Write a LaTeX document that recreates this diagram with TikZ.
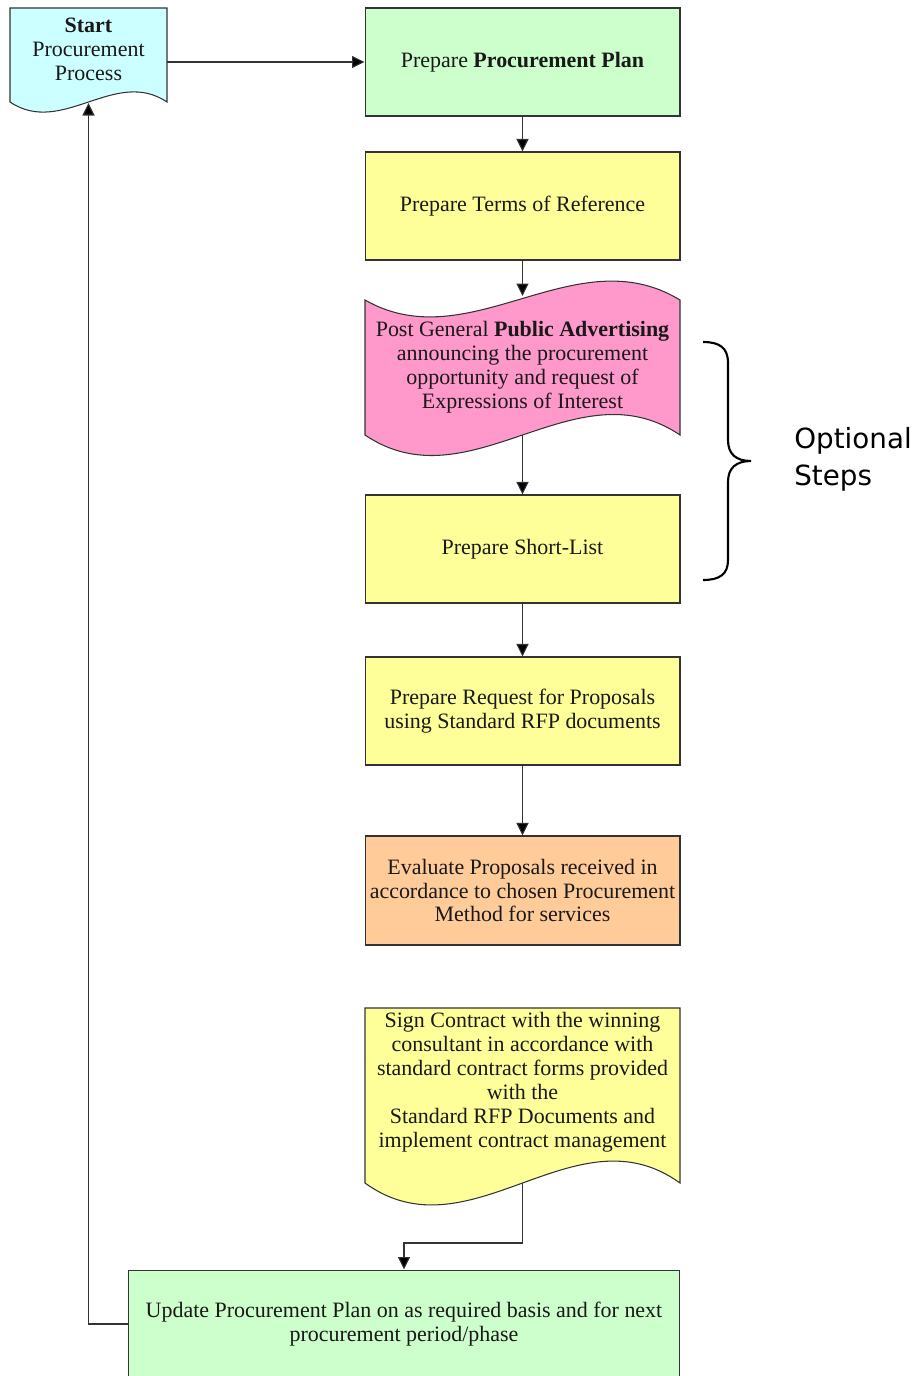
\documentclass[tikz,border=0pt]{standalone}
\usepackage{fontspec}
\setmainfont{Liberation Serif}
\newfontfamily\optfont{DejaVu Sans}
\usetikzlibrary{arrows.meta}
\definecolor{cstart}{HTML}{CCFFFF}
\definecolor{cgreen}{HTML}{CCFFCC}
\definecolor{cyellow}{HTML}{FFFF99}
\definecolor{cpink}{HTML}{FF99CC}
\definecolor{corange}{HTML}{FFCC99}
\definecolor{cline}{HTML}{333333}
\tikzset{
  boxtxt/.style={align=center, inner sep=0pt, font=\fontsize{12.5}{13.6}\selectfont, text=black!90},
  stepbox/.style={boxtxt, draw=cline, line width=0.6pt, minimum width=6.3cm, minimum height=2.16cm},
  shapeline/.style={draw=cline, line width=0.6pt},
  arr/.style={draw=cline, line width=0.6pt, -{Triangle[length=2.5mm,width=2.4mm,fill=black]}},
}
\begin{document}
\begin{tikzpicture}[x=0.02cm,y=-0.02cm]
\useasboundingbox (0,0) rectangle (920,1376);
\clip (0,0) rectangle (920,1376);

% Start document shape
\draw[shapeline, fill=cstart] (10,8) -- (167,8) -- (167,102)
  .. controls (115,67) and (62,137) .. (10,102) -- cycle;
\node[boxtxt] (start) at (88.5,49) {\textbf{Start}\\Procurement\\Process};
\coordinate (startE) at (167,62);
\coordinate (startS) at (88.5,103);

% Plan
\node[stepbox, fill=cgreen] (plan) at (522.5,62) {Prepare \textbf{Procurement Plan}};
% ToR
\node[stepbox, fill=cyellow] (tor) at (522.5,206) {Prepare Terms of Reference};

% Advertising (punched tape)
\draw[shapeline, fill=cpink] (365,300) .. controls (470,360) and (575,236) .. (680,300)
  -- (680,435) .. controls (575,364) and (470,506) .. (365,435) -- cycle;
\node[boxtxt] (adv) at (522.5,367) {Post General \textbf{Public Advertising}\\announcing the procurement\\opportunity and request of\\Expressions of Interest};
\coordinate (advN) at (522.5,296);
\coordinate (advS) at (522.5,435);

% Short-list
\node[stepbox, fill=cyellow] (short) at (522.5,549) {Prepare Short-List};
% RFP
\node[stepbox, fill=cyellow] (rfp) at (522.5,711) {Prepare Request for Proposals\\using Standard RFP documents};
% Evaluate
\node[stepbox, fill=corange, minimum height=2.18cm] (eval) at (522.5,890.5) {Evaluate Proposals received in\\accordance to chosen Procurement\\Method for services};

% Sign contract document shape
\draw[shapeline, fill=cyellow] (365,1008) -- (680,1008) -- (680,1183)
  .. controls (575,1107) and (470,1259) .. (365,1183) -- cycle;
\node[boxtxt] (sign) at (522.5,1082) {Sign Contract with the winning\\consultant in accordance with\\standard contract forms provided\\with the\\Standard RFP Documents and\\implement contract management};
\coordinate (signS) at (522.5,1183);

% Update
\node[stepbox, fill=cgreen, minimum width=11.04cm] (upd) at (404,1324) {Update Procurement Plan on as required basis and for next\\procurement period/phase};

% Connectors
\draw[arr] (startE) -- (plan.west);
\draw[arr] (plan.south) -- (tor.north);
\draw[arr] (tor.south) -- (advN);
\draw[arr] (advS) -- (short.north);
\draw[arr] (short.south) -- (rfp.north);
\draw[arr] (rfp.south) -- (eval.north);
\draw[arr] (signS) -- ++(0,60) -| (upd.north);
\draw[arr] (upd.west) -| (startS);

% Brace
\draw[line width=1.2pt] (703,342) .. controls (720,342) and (728,348) .. (728,363) -- (728,440)
  .. controls (728,454) and (736,461) .. (751,461)
  .. controls (736,461) and (728,468) .. (728,482) -- (728,560)
  .. controls (728,574) and (720,580) .. (703,580);
\node[anchor=west, align=left, inner sep=0pt, font=\optfont\fontsize{15.8}{21}\selectfont] (opt) at (794,459.5) {Optional\\Steps};
\end{tikzpicture}
\end{document}
